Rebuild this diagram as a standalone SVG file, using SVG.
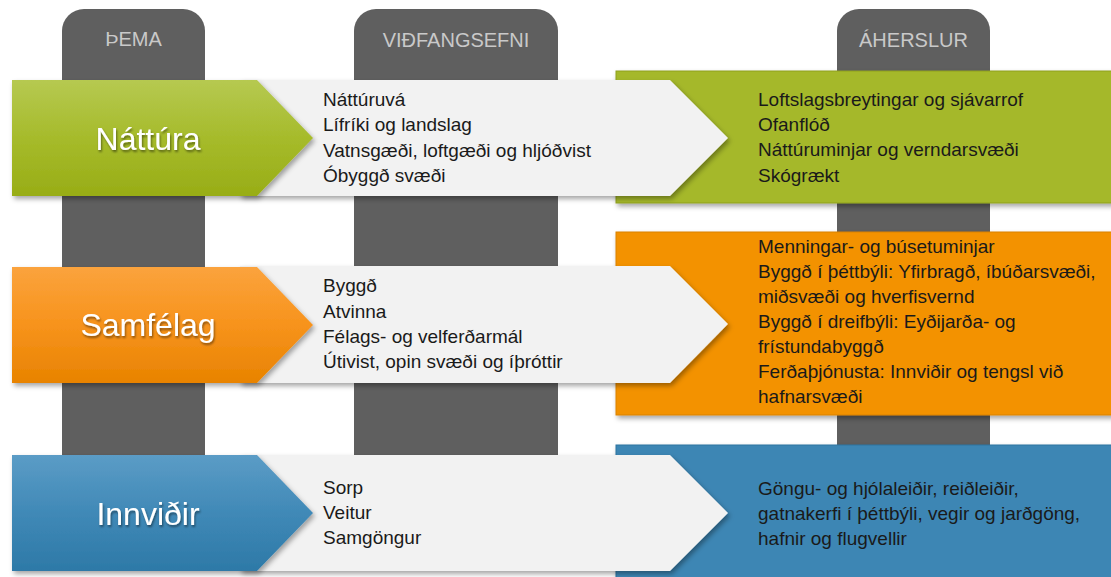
<svg xmlns="http://www.w3.org/2000/svg" width="1111" height="577" viewBox="0 0 1111 577">
<style>
.col{fill:#5f5f5f}
.hdr{font-family:"Liberation Sans",Arial,sans-serif;font-size:20px;fill:#c9c9c9;text-anchor:middle}
.ttl{font-family:"Liberation Sans",Arial,sans-serif;font-size:32px;fill:#ffffff;text-anchor:middle}
.txt{font-family:"Liberation Sans",Arial,sans-serif;font-size:19px;fill:#1a1a1a}
.gray{fill:#f2f2f2}
</style>
<defs>
<filter id="sh" x="-5%" y="-10%" width="115%" height="130%">
<feDropShadow dx="2" dy="3" stdDeviation="2.5" flood-color="#000" flood-opacity="0.35"/>
</filter>
<filter id="tsh" x="-10%" y="-20%" width="130%" height="150%">
<feDropShadow dx="1" dy="2" stdDeviation="1.2" flood-color="#000" flood-opacity="0.45"/>
</filter>
<linearGradient id="gGreen" x1="0" y1="0" x2="0" y2="1">
<stop offset="0" stop-color="#b6c951"/><stop offset="0.5" stop-color="#a6bb2b"/><stop offset="1" stop-color="#98ad16"/>
</linearGradient>
<linearGradient id="gOrange" x1="0" y1="0" x2="0" y2="1">
<stop offset="0" stop-color="#fba33d"/><stop offset="0.5" stop-color="#f7931c"/><stop offset="1" stop-color="#e88300"/>
</linearGradient>
<linearGradient id="gBlue" x1="0" y1="0" x2="0" y2="1">
<stop offset="0" stop-color="#5b9cc6"/><stop offset="0.5" stop-color="#4089b7"/><stop offset="1" stop-color="#2d79a7"/>
</linearGradient>
</defs>

<g id="col-thema">
<path class="col" d="M62,560 V31 A22,22 0 0 1 84,9 H183 A22,22 0 0 1 205,31 V560 Z"/>
<text class="hdr" x="133.5" y="46">ÞEMA</text>
</g>
<g id="col-vidfangsefni">
<path class="col" d="M354,560 V31 A22,22 0 0 1 376,9 H536 A22,22 0 0 1 558,31 V560 Z"/>
<text class="hdr" x="456" y="47">VIÐFANGSEFNI</text>
</g>
<g id="col-aherslur">
<path class="col" d="M837,560 V31 A22,22 0 0 1 859,9 H968 A22,22 0 0 1 990,31 V560 Z"/>
<text class="hdr" x="913.5" y="47">ÁHERSLUR</text>
</g>

<g id="connectors"></g>

<!-- Row 1: Náttúra -->
<g id="focus-nattura">
<rect x="616" y="71" width="500" height="132" fill="#a5b82a" stroke="#8fa01f" stroke-width="1" filter="url(#sh)"/>
<text class="txt" x="758" y="106">Loftslagsbreytingar og sjávarrof</text>
<text class="txt" x="758" y="131">Ofanflóð</text>
<text class="txt" x="758" y="156">Náttúruminjar og verndarsvæði</text>
<text class="txt" x="758" y="182">Skógrækt</text>
</g>
<g id="topics-nattura">
<polygon class="gray" points="240,80 670,80 728,138 670,196 240,196" filter="url(#sh)"/>
<text class="txt" x="323" y="106">Náttúruvá</text>
<text class="txt" x="323" y="131">Lífríki og landslag</text>
<text class="txt" x="323" y="157">Vatnsgæði, loftgæði og hljóðvist</text>
<text class="txt" x="323" y="182">Óbyggð svæði</text>
</g>
<g id="theme-nattura">
<polygon points="12,80 257,80 313,138 257,196 12,196" fill="url(#gGreen)" filter="url(#sh)"/>
<text class="ttl" x="148" y="150" filter="url(#tsh)">Náttúra</text>
</g>

<!-- Row 2: Samfélag -->
<g id="focus-samfelag">
<rect x="616" y="232" width="500" height="183" fill="#f39200" stroke="#d98200" stroke-width="1" filter="url(#sh)"/>
<text class="txt" x="758" y="253">Menningar- og búsetuminjar</text>
<text class="txt" x="758" y="278">Byggð í þéttbýli: Yfirbragð, íbúðarsvæði,</text>
<text class="txt" x="758" y="303">miðsvæði og hverfisvernd</text>
<text class="txt" x="758" y="328">Byggð í dreifbýli: Eyðijarða- og</text>
<text class="txt" x="758" y="353">frístundabyggð</text>
<text class="txt" x="758" y="378">Ferðaþjónusta: Innviðir og tengsl við</text>
<text class="txt" x="758" y="403">hafnarsvæði</text>
</g>
<g id="topics-samfelag">
<polygon class="gray" points="240,266 670,266 728,324 670,383 240,383" filter="url(#sh)"/>
<text class="txt" x="323" y="292">Byggð</text>
<text class="txt" x="323" y="318">Atvinna</text>
<text class="txt" x="323" y="343">Félags- og velferðarmál</text>
<text class="txt" x="323" y="368">Útivist, opin svæði og íþróttir</text>
</g>
<g id="theme-samfelag">
<polygon points="12,267 257,267 313,325 257,383 12,383" fill="url(#gOrange)" filter="url(#sh)"/>
<text class="ttl" x="148" y="336" filter="url(#tsh)">Samfélag</text>
</g>

<!-- Row 3: Innviðir -->
<g id="focus-innvidir">
<rect x="616" y="445" width="500" height="140" fill="#3d86b4" stroke="#2f74a0" stroke-width="1" filter="url(#sh)"/>
<text class="txt" x="758" y="495">Göngu- og hjólaleiðir, reiðleiðir,</text>
<text class="txt" x="758" y="520">gatnakerfi í þéttbýli, vegir og jarðgöng,</text>
<text class="txt" x="758" y="545">hafnir og flugvellir</text>
</g>
<g id="topics-innvidir">
<polygon class="gray" points="240,455 670,455 728,513 670,571 240,571" filter="url(#sh)"/>
<text class="txt" x="323" y="494">Sorp</text>
<text class="txt" x="323" y="519">Veitur</text>
<text class="txt" x="323" y="544">Samgöngur</text>
</g>
<g id="theme-innvidir">
<polygon points="12,455 257,455 313,513 257,571 12,571" fill="url(#gBlue)" filter="url(#sh)"/>
<text class="ttl" x="148" y="525" filter="url(#tsh)">Innviðir</text>
</g>
</svg>
